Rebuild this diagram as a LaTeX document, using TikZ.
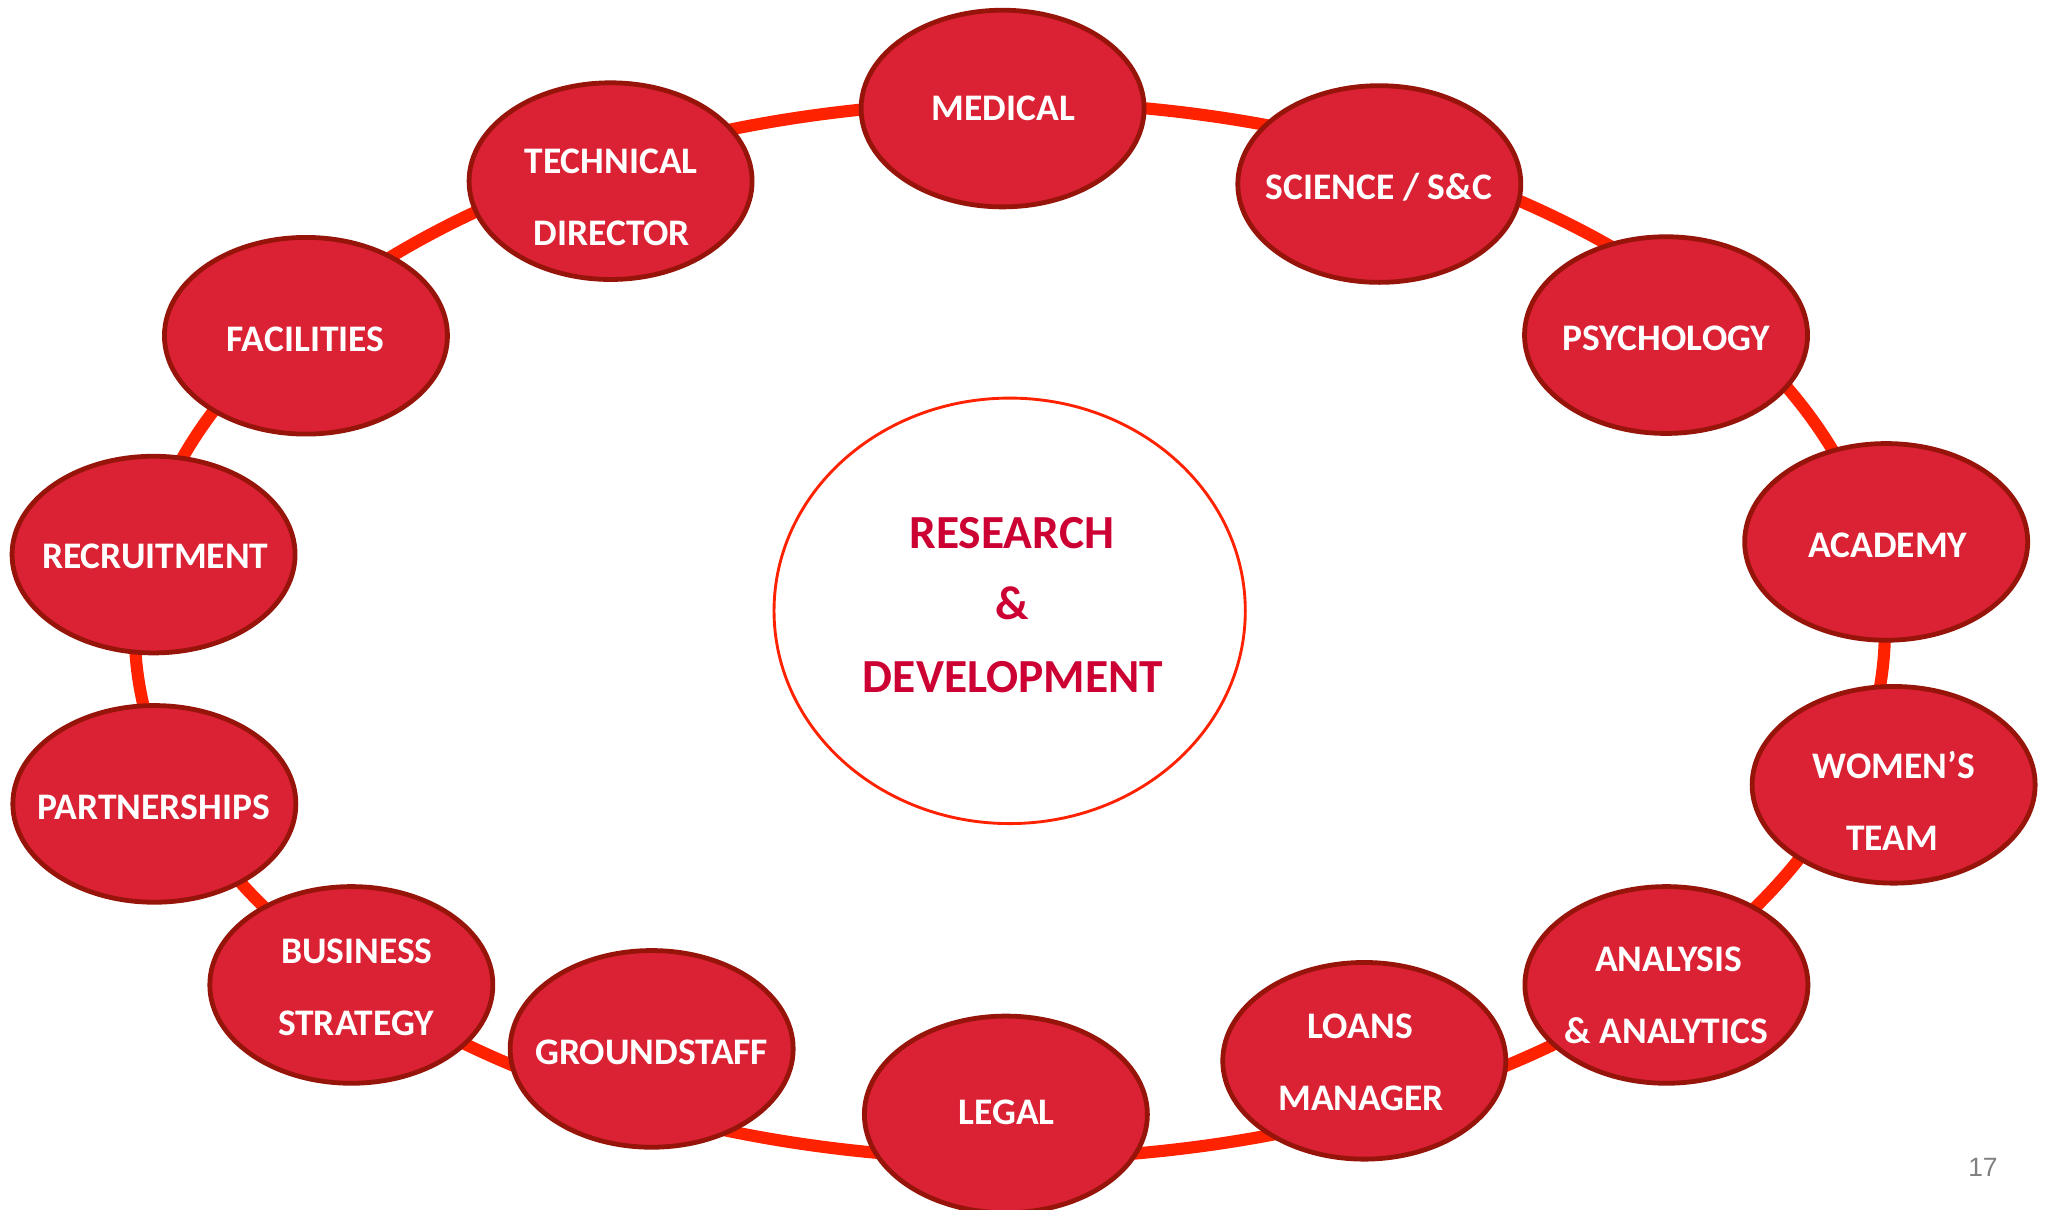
\documentclass[tikz,border=0pt]{standalone}
\usepackage{fontspec}
\setmainfont{Carlito}
\newfontfamily\pagenumfont{Liberation Sans}
\usetikzlibrary{shapes.geometric,backgrounds}
\definecolor{bubfill}{RGB}{219,33,52}
\definecolor{bubline}{RGB}{150,20,10}
\definecolor{ringred}{RGB}{255,34,0}
\definecolor{rdtext}{RGB}{204,0,51}
\definecolor{pggray}{RGB}{128,128,128}
\begin{document}
\begin{tikzpicture}[x=0.0125cm,y=-0.0125cm,
  bub/.style={ellipse, draw=bubline, fill=bubfill, line width=1.3pt,
    minimum width=2.704cm, minimum height=1.879cm, inner sep=0pt},
  bubtxt/.style={anchor=base, inner sep=0pt, text=white,
    font=\fontsize{10.2}{12}\selectfont\bfseries},
  rdbox/.style={ellipse, draw=ringred, line width=0.78pt,
    minimum width=4.5025cm, minimum height=4.065cm, inner sep=0pt},
  rdtxt/.style={anchor=base, inner sep=0pt, text=rdtext,
    font=\fontsize{12.9}{15}\selectfont\bfseries},
  ringline/.style={draw=ringred, line width=3.3pt},
  pagenum/.style={anchor=base, inner sep=0pt, text=pggray,
    font=\pagenumfont\fontsize{7.2}{9}\selectfont}]
\useasboundingbox (0,0) rectangle (1568,925);
\coordinate (ringc) at (772,482);

% bubbles
\node[bub] (med) at (766.5,83) {};
\node[bub] (tech) at (466.8,138.5) {};
\node[bub] (sci) at (1054.5,140.7) {};
\node[bub] (fac) at (233.9,256.7) {};
\node[bub] (psy) at (1273.7,256.2) {};
\node[bub] (rec) at (117.4,424) {};
\node[bub] (aca) at (1442,414.3) {};
\node[bub] (par) at (118,614.6) {};
\node[bub] (wom) at (1447.7,600) {};
\node[bub] (bus) at (268.6,753) {};
\node[bub] (ana) at (1274,753) {};
\node[bub] (gro) at (498.2,801.9) {};
\node[bub] (loa) at (1043,811) {};
\node[bub] (leg) at (769,852) {};

% bubble texts
\node[bubtxt] (tmed) at (767,92) {MEDICAL};
\node[bubtxt] (ttech1) at (467.2,132.7) {TECHNICAL};
\node[bubtxt] (ttech2) at (467.7,188) {DIRECTOR};
\node[bubtxt] (tsci) at (1054.2,152.5) {SCIENCE / S\&C};
\node[bubtxt] (tfac) at (233.6,268.4) {FACILITIES};
\node[bubtxt] (tpsy) at (1274.1,267.8) {PSYCHOLOGY};
\node[bubtxt] (trec) at (118.7,435) {RECRUITMENT};
\node[bubtxt] (taca) at (1443.2,426.3) {ACADEMY};
\node[bubtxt] (tpar) at (117.4,626.5) {PARTNERSHIPS};
\node[bubtxt] (twom1) at (1448,595.2) {WOMEN’S};
\node[bubtxt] (twom2) at (1446.6,650) {TEAM};
\node[bubtxt] (tbus1) at (272.8,736.8) {BUSINESS};
\node[bubtxt] (tbus2) at (272.2,791.7) {STRATEGY};
\node[bubtxt] (tana1) at (1275.8,742.7) {ANALYSIS};
\node[bubtxt] (tana2) at (1273.9,797.7) {\& ANALYTICS};
\node[bubtxt] (tgro) at (498.2,814.1) {GROUNDSTAFF};
\node[bubtxt] (tloa1) at (1040,793.8) {LOANS};
\node[bubtxt] (tloa2) at (1040.6,849) {MANAGER};
\node[bubtxt] (tleg) at (769.5,859.4) {LEGAL};

% centre
\node[rdbox] (rd) at (771.9,467) {};
\node[rdtxt] (rd1) at (773.5,419) {RESEARCH};
\node[rdtxt] (rd2) at (773.7,474) {\&};
\node[rdtxt] (rd3) at (774.5,529.3) {DEVELOPMENT};

% page number
\node[pagenum] (pg) at (1516,899.6) {17};

% ring behind the bubbles
\begin{scope}[on background layer]
\fill[white] (0,0) rectangle (1568,925);
\draw[ringline] (ringc) ellipse [x radius=669, y radius=404];
\end{scope}
\end{tikzpicture}
\end{document}
